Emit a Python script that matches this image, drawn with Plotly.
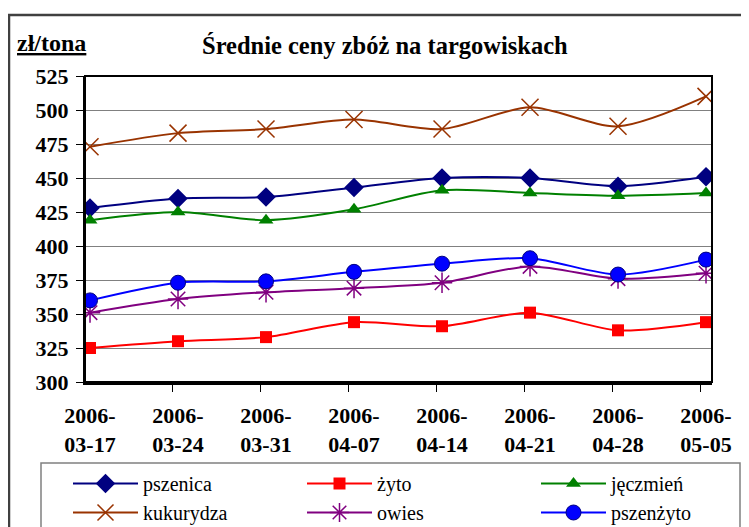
import plotly.graph_objects as go

dates = ["2006-03-17", "2006-03-24", "2006-03-31", "2006-04-07",
         "2006-04-14", "2006-04-21", "2006-04-28", "2006-05-05"]
pszenica = [428, 435, 436, 443, 450, 450, 444, 451]
zyto = [325, 330, 333, 344, 341, 351, 338, 344]
jeczmien = [419, 425, 419, 427, 441, 439, 437, 439]
kukurydza = [473, 483, 486, 493, 486, 502, 488, 510]
owies = [351, 361, 366, 369, 373, 385, 376, 380]
pszenzyto = [360, 373, 374, 381, 387, 391, 379, 390]

y_ticks = [300, 325, 350, 375, 400, 425, 450, 475, 500, 525]

FONT = "Liberation Serif"
OFF = 8  # page body margin
W, H = 749 - OFF, 527 - OFF
# plot area in page pixels: x 85..712, y 76..382
PL, PR, PT, PB = 85, 712, 76, 382
L, R, T, B = PL - OFF, W - (PR - OFF), PT - OFF, H - (PB - OFF)
PW, PH = PR - PL, PB - PT

def px_x(p):
    return (p - PL) / PW

def px_y(p):
    return (PB - p) / PH

xs = list(range(len(dates)))
ticktext = [d[:5] + "<br>" + d[5:] for d in dates]

series = [
    ("pszenica", pszenica, "#000080", dict(symbol="diamond", size=15, color="#000080")),
    ("żyto", zyto, "#FF0000", dict(symbol="square", size=12, color="#FF0000")),
    ("jęczmień", jeczmien, "#008000", dict(symbol="triangle-up", size=13, color="#008000")),
    ("kukurydza", kukurydza, "#993300", dict(symbol="x-thin", size=17, color="#993300",
                                             line=dict(color="#993300", width=1.5))),
    ("owies", owies, "#800080", dict(symbol="asterisk", size=17, color="#800080",
                                     line=dict(color="#800080", width=1.5))),
    ("pszenżyto", pszenzyto, "#0000FF", dict(symbol="circle", size=15, color="#0000FF",
                                             line=dict(color="#000080", width=1))),
]

fig = go.Figure()
for name, vals, col, mk in series:
    fig.add_trace(go.Scatter(
        x=xs, y=vals, name=name, mode="lines+markers",
        line=dict(color=col, width=2, shape="spline", smoothing=0.8),
        marker=mk,
    ))

fig.update_layout(
    width=W, height=H,
    margin=dict(l=L, r=R, t=T, b=B, autoexpand=False),
    paper_bgcolor="white", plot_bgcolor="white",
    font=dict(family=FONT, size=20, color="black"),
    showlegend=True,
    legend=dict(
        orientation="h", x=px_x(68), y=px_y(464), xanchor="left", yanchor="top",
        borderwidth=0, bgcolor="rgba(0,0,0,0)",
        font=dict(family=FONT, size=20, color="black"),
        entrywidth=154, entrywidthmode="pixels", itemwidth=65,
        tracegroupgap=0,
    ),
    xaxis=dict(
        range=[-0.057, 7.068], tickmode="array", tickvals=xs, ticktext=ticktext,
        ticks="", showgrid=False, zeroline=False,
        showline=True, linecolor="black", linewidth=3,
        ticklabelstandoff=12,
        tickfont=dict(family=FONT, size=22, color="black", weight="bold"),
        minor=dict(tickmode="array", tickvals=[i - 0.06 for i in xs], ticks="outside",
                   ticklen=7, tickcolor="black", tickwidth=1, showgrid=False),
    ),
    yaxis=dict(
        range=[300, 525], tickmode="array", tickvals=y_ticks,
        ticks="outside", ticklen=7, tickcolor="black", tickwidth=1,
        ticklabelstandoff=3,
        showgrid=True, gridcolor="#808080", gridwidth=1, zeroline=False,
        showline=True, linecolor="black", linewidth=2,
        tickfont=dict(family=FONT, size=22, color="black", weight="bold"),
    ),
)

# plot area border (top/right)
fig.add_shape(type="rect", xref="paper", yref="paper", x0=0, x1=1, y0=0, y1=1,
              line=dict(color="black", width=2), layer="above")
# outer chart frame
fig.add_shape(type="path", xref="paper", yref="paper",
              path=f"M {px_x(9)} {px_y(530)} L {px_x(9)} {px_y(15)} L {px_x(752)} {px_y(15)}",
              line=dict(color="#404040", width=2.5))
# legend frame
fig.add_shape(type="rect", xref="paper", yref="paper",
              x0=px_x(41), x1=px_x(740), y0=px_y(535), y1=px_y(463),
              line=dict(color="#808080", width=1.5))

fig.add_annotation(text="<b>Średnie ceny zbóż na targowiskach</b>", xref="paper", yref="paper",
                   x=px_x(385), y=px_y(46), xanchor="center", yanchor="middle",
                   showarrow=False, font=dict(family=FONT, size=24.5, color="black"))
fig.add_annotation(text="<b><u>zł/tona</u></b>", xref="paper", yref="paper",
                   x=px_x(15), y=px_y(43), xanchor="left", yanchor="middle",
                   showarrow=False, font=dict(family=FONT, size=24, color="black"))

fig.write_html("out.html")
